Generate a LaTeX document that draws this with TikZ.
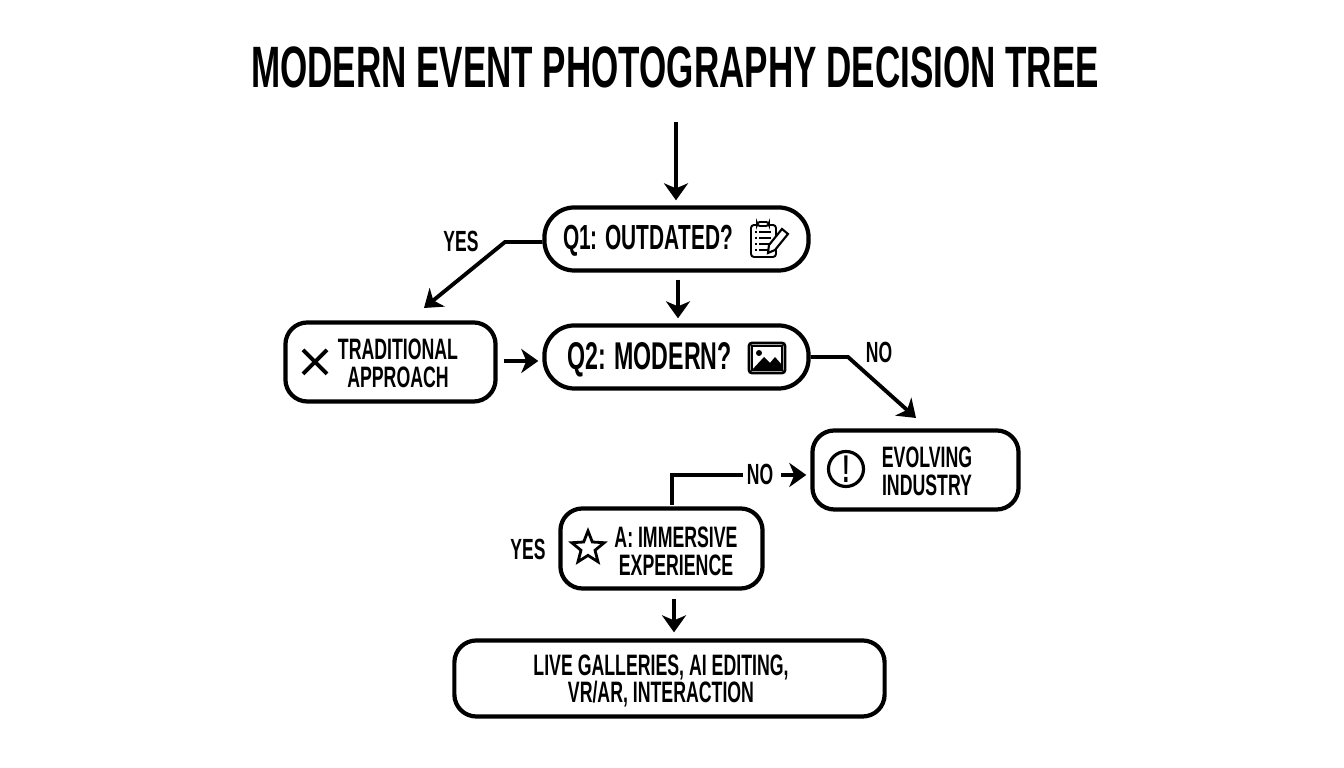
\documentclass[tikz,border=0pt]{standalone}
\usepackage{fontspec}
\setmainfont[FakeStretch=0.6]{Liberation Sans}
\usetikzlibrary{positioning,arrows.meta,calc,shapes.geometric}
\tikzset{
  Flow/.style={draw=black, line width=1.1pt, -{Stealth[length=1.7mm,width=2.4mm,inset=0.5mm]}, line join=miter},
  Wire/.style={draw=black, line width=1.1pt},
  Question/.style={draw=black, line width=1.2pt, rounded corners=3mm, minimum width=2.64cm, minimum height=0.63cm, fill=white},
  Outcome/.style={draw=black, line width=1.2pt, rounded corners=2.2mm, fill=white},
  BoxText/.style={font=\fontsize{9.9}{11}\selectfont\bfseries, inner sep=0pt},
  SmallText/.style={font=\fontsize{8.4}{7.9}\selectfont\bfseries, inner sep=0pt, align=center},
  Tag/.style={font=\fontsize{8.3}{10}\selectfont\bfseries, inner sep=1pt},
  Icon/.style={draw=black, line width=0.55pt}
}
\begin{document}
\begin{tikzpicture}[x=0.01cm, y=-0.01cm]
  \useasboundingbox (0,0) rectangle (1344,768);
  \node[font=\fontsize{16.6}{20}\selectfont\bfseries, inner sep=0pt] (title) at (675,67) {MODERN EVENT PHOTOGRAPHY DECISION TREE};

  % Boxes
  \node[Question] (qone) at (676.5,239) {};
  \node[Question] (qtwo) at (676.5,357) {};
  \node[Outcome, minimum width=2.1cm, minimum height=0.79cm] (trad) at (390.5,362) {};
  \node[Outcome, minimum width=2.06cm, minimum height=0.79cm] (evolving) at (915.5,470) {};
  \node[Outcome, minimum width=2.02cm, minimum height=0.8cm] (immersive) at (661.5,548.5) {};
  \node[Outcome, minimum width=4.3cm, minimum height=0.76cm] (final) at (669.5,678.5) {};

  % Box texts
  \node[BoxText] (qonetext) at (648,241) {Q1: OUTDATED?};
  \node[BoxText, font=\fontsize{11}{11}\selectfont\bfseries] (qtwotext) at (649.5,360) {Q2: MODERN?};
  \node[SmallText] (tradtext) at (398,363) {TRADITIONAL\\APPROACH};
  \node[SmallText] (evolvingtext) at (927,471) {EVOLVING\\INDUSTRY};
  \node[SmallText] (immersivetext) at (676,551) {A: IMMERSIVE\\EXPERIENCE};
  \node[SmallText] (finaltext) at (661,681) {LIVE GALLERIES, AI EDITING,\\VR/AR, INTERACTION};

  % Tags
  \node[Tag] (yesone) at (461,241) {YES};
  \node[Tag] (noone) at (879,352) {NO};
  \node[Tag] (notwo) at (760,474) {NO};
  \node[Tag] (yestwo) at (528,549) {YES};

  % Connectors
  \coordinate (start) at (676,122);
  \coordinate (bendone) at (505,242);
  \coordinate (tradtop) at (424,308);
  \coordinate (bendtwo) at (848,357);
  \coordinate (evolvingtop) at (916,418);
  \coordinate (rise) at (672,505);
  \draw[Flow, shorten >=0.5mm] (start) -- (start |- qone.north);
  \draw[Flow, shorten <=0.7mm, shorten >=0.5mm] (678,0 |- qone.south) -- (678,0 |- qtwo.north);
  \draw[Flow] ($(qone.west)+(0,3)$) -- (bendone) -- (tradtop);
  \draw[Flow, shorten <=0.6mm, shorten >=0.4mm] (trad.east |- 0,361) -- (qtwo.west |- 0,361);
  \draw[Flow] (qtwo.east) -- (bendtwo) -- (evolvingtop);
  \draw[Wire] (rise) -- (672,475) -- (notwo.west |- 0,475);
  \draw[Flow, shorten <=0.4mm, shorten >=0.4mm] (notwo.east |- 0,475) -- (evolving.west |- 0,475);
  \draw[Flow, shorten <=0.8mm, shorten >=0.6mm] (674,0 |- immersive.south) -- (674,0 |- final.north);

  % Icon: clipboard and pencil
  \draw[Icon, rounded corners=0.3mm] (751,225) rectangle (776,257);
  \draw[Icon, fill=white, rounded corners=0.3mm] (757,226) -- (757,222) -- (769,222) -- (769,226) -- cycle;
  \foreach \row in {232,238,244,250} {
    \draw[Icon] (755,\row) -- (757,\row) (759,\row) -- (771,\row);
  }
  \draw[Icon, fill=white, line width=0.6pt] (768,253) -- (769,245) -- (782,229) -- (788,234) -- (775,250) -- cycle;

  % Icon: picture
  \draw[Icon, line width=0.8pt, rounded corners=0.3mm] (749,343) rectangle (785,373);
  \draw[Icon, line width=0.5pt] (752,346) rectangle (782,370);
  \fill[black] (752,370) -- (764,357) -- (770,363) -- (775,357) -- (782,365) -- (782,370) -- cycle;
  \fill[black] (759,353) circle (3);

  % Icons: cross, warning, star
  \draw[line width=1.1pt] (303,350) -- (327,374) (327,350) -- (303,374);
  \node[draw=black, line width=0.9pt, circle, minimum size=0.35cm, inner sep=0pt, font=\fontsize{11}{11}\selectfont\bfseries] (warn) at (846,469) {!};
  \node[draw=black, line width=0.8pt, star, star points=5, star point ratio=2.3, minimum size=0.34cm, inner sep=0pt] (staricon) at (588,548) {};
\end{tikzpicture}
\end{document}
